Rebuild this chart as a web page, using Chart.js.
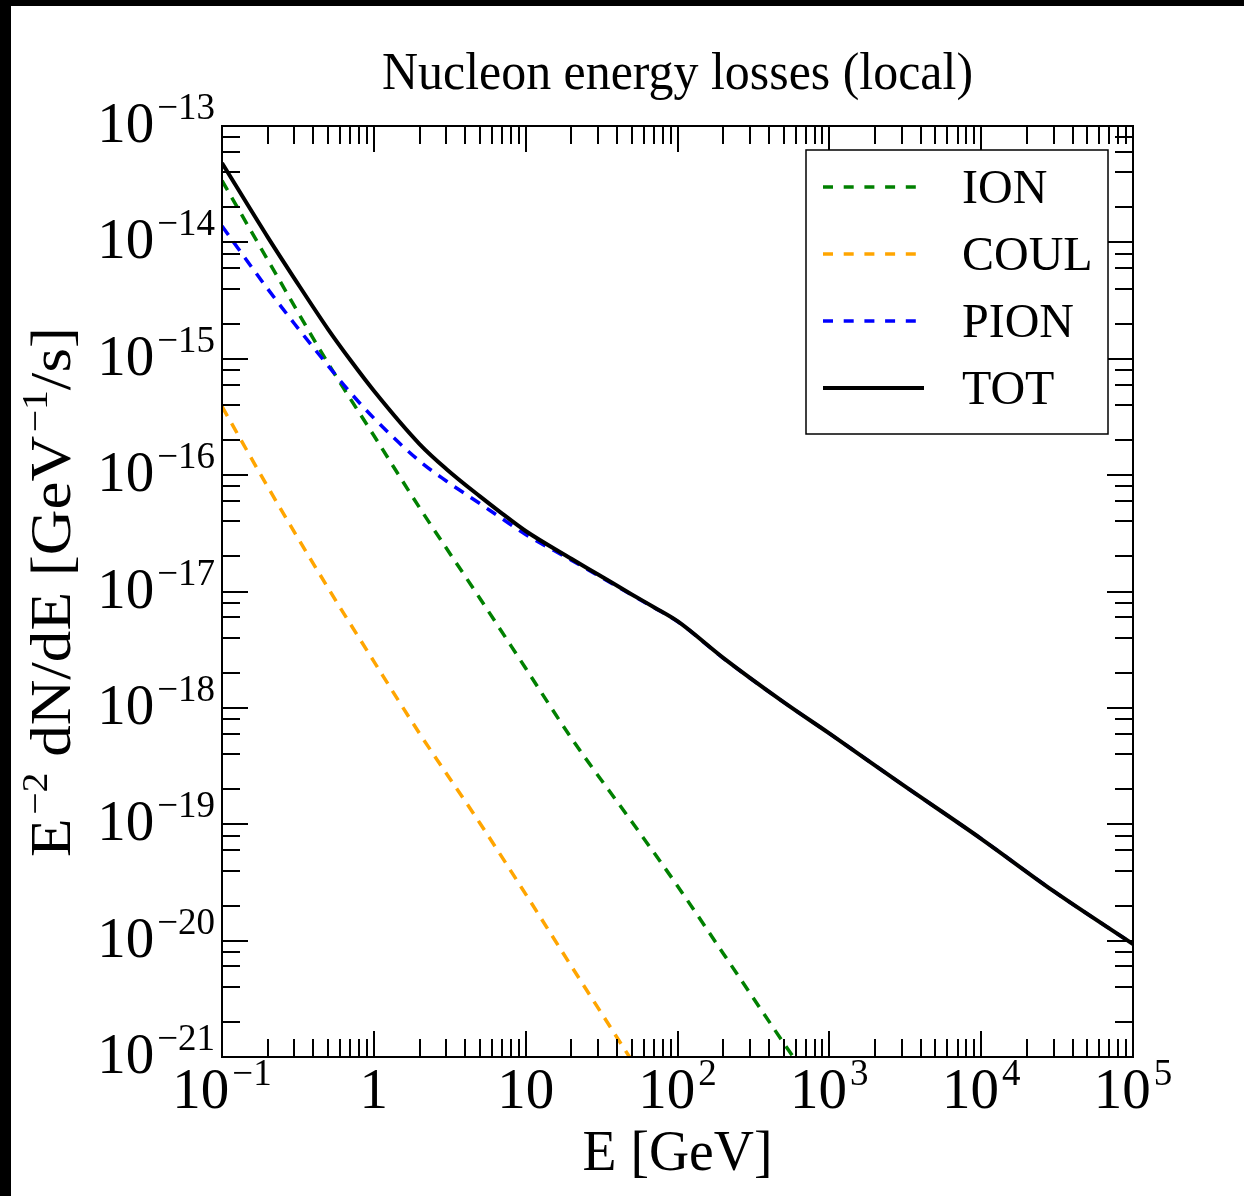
<!DOCTYPE html>
<html lang="en">
<head>
<meta charset="UTF-8">
<title>Nucleon energy losses (local)</title>
<script src="https://cdn.jsdelivr.net/npm/chart.js@4.4.0/dist/chart.umd.min.js"></script>
<style>
  html, body { margin: 0; padding: 0; background: #fff; }
  canvas { display: block; }
</style>
</head>
<body>
<canvas id="chart" width="1244" height="1196"></canvas>
<script>
// E [GeV] grids, one per curve
const energyTot = [0.1, 0.2, 0.3, 0.5, 0.7, 1, 2, 3, 5, 7, 10, 20, 30, 50, 70, 100, 200, 500, 1000, 3000, 10000, 30000, 100000];
const energyIon = [0.1, 0.2, 0.5, 1, 2, 5, 10, 20, 50, 100, 200, 500, 1000];
const energyCoul = [0.1, 0.2, 0.5, 1, 2, 5, 10, 20, 50, 100];

// E^-2 dN/dE [GeV^-1/s]
const ionLoss = [3.39e-14, 7.08e-15, 9.12e-16, 2.19e-16, 5.25e-17, 8.71e-18, 2.19e-18, 5.50e-19, 1.05e-19, 2.95e-20, 7.76e-21, 1.32e-21, 3.55e-22];
const coulLoss = [3.89e-16, 7.94e-17, 1.07e-17, 2.51e-18, 6.03e-19, 1.02e-19, 2.51e-20, 6.03e-21, 9.33e-22, 2.29e-22];
const pionLoss = [1.38e-14, 3.98e-15, 2.00e-15, 8.71e-16, 5.13e-16, 3.09e-16, 1.32e-16, 8.91e-17, 5.69e-17, 4.22e-17, 3.09e-17, 1.86e-17, 1.37e-17, 9.33e-18, 7.27e-18, 5.53e-18, 2.68e-18, 1.12e-18, 6.03e-19, 2.21e-19, 7.50e-20, 2.66e-20, 9.33e-21];
const totLoss = [4.81e-14, 1.11e-14, 4.89e-15, 1.79e-15, 9.75e-16, 5.31e-16, 1.85e-16, 1.13e-16, 6.56e-17, 4.67e-17, 3.31e-17, 1.91e-17, 1.40e-17, 9.44e-18, 7.33e-18, 5.56e-18, 2.69e-18, 1.12e-18, 6.03e-19, 2.21e-19, 7.50e-20, 2.66e-20, 9.33e-21];

const seriesNames = ['ION', 'COUL', 'PION', 'TOT'];

// tick labels
const xTickVals = [0.1, 1, 10, 100, 1000, 10000, 100000];
const xTickBase = ['10', '1', '10', '10', '10', '10', '10'];
const xTickExp = ['\u22121', '', '', '2', '3', '4', '5'];
const yTickVals = [1e-13, 1e-14, 1e-15, 1e-16, 1e-17, 1e-18, 1e-19, 1e-20, 1e-21];
const yTickExp = ['\u221213', '\u221214', '\u221215', '\u221216', '\u221217', '\u221218', '\u221219', '\u221220', '\u221221'];

const titleText = 'Nucleon energy losses (local)';
const xTitle = [{ t: 'E [GeV]' }];
const yTitle = [{ t: 'E' }, { t: '\u22122', sup: true }, { t: ' dN/dE [GeV' }, { t: '\u22121', sup: true }, { t: '/s]' }];

const SERIF = "'Liberation Serif', 'DejaVu Serif', serif";

function pts(xs, ys) {
  return xs.map((e, i) => ({ x: e, y: ys[i] }));
}

function mathWidth(c, parts, big, small) {
  let w = 0;
  parts.forEach(p => {
    c.font = (p.sup ? small : big) + 'px ' + SERIF;
    w += c.measureText(p.t).width + (p.sup ? 3 : 0);
  });
  return w;
}

// draws text parts left aligned at x, baseline y
function drawMath(c, parts, x, y, big, small, rise) {
  let cx = x;
  parts.forEach(p => {
    c.font = (p.sup ? small : big) + 'px ' + SERIF;
    if (p.sup) cx += 3;
    c.fillText(p.t, cx, p.sup ? y - rise : y);
    cx += c.measureText(p.t).width;
  });
}

// centred text, squeezed/stretched to a given width
function drawFit(c, parts, cx, y, big, small, rise, width) {
  const w = mathWidth(c, parts, big, small);
  const s = width ? width / w : 1;
  c.save();
  c.translate(cx, y);
  c.scale(s, 1);
  drawMath(c, parts, -w / 2, 0, big, small, rise);
  c.restore();
}

const framePlugin = {
  id: 'frame',
  beforeDraw(chart) {
    const c = chart.ctx;
    c.save();
    c.fillStyle = '#fff';
    c.fillRect(0, 0, chart.width, chart.height);
    c.fillStyle = '#000';
    c.fillRect(0, 0, chart.width, 6);
    c.fillRect(0, 0, 11, chart.height);
    c.restore();
  },
  afterDraw(chart) {
    const c = chart.ctx;
    const a = chart.chartArea;
    const xs = chart.scales.x, ys = chart.scales.y;
    c.save();
    c.strokeStyle = '#000';
    c.fillStyle = '#000';
    c.lineWidth = 2;

    // inward ticks on all four sides
    c.beginPath();
    for (let d = -1; d <= 5; d++) {
      for (let k = 1; k <= 9; k++) {
        if (d === 5 && k > 1) break;
        const px = Math.round(xs.getPixelForValue(k * Math.pow(10, d)));
        const len = k === 1 ? 26 : 18;
        c.moveTo(px, a.bottom); c.lineTo(px, a.bottom - len);
        c.moveTo(px, a.top); c.lineTo(px, a.top + len);
      }
    }
    for (let d = -21; d <= -13; d++) {
      for (const k of [1, 2, 4, 6, 8]) {
        if (d === -13 && k > 1) break;
        const py = Math.round(ys.getPixelForValue(k * Math.pow(10, d)));
        const len = k === 1 ? 26 : 18;
        c.moveTo(a.left, py); c.lineTo(a.left + len, py);
        c.moveTo(a.right, py); c.lineTo(a.right - len, py);
      }
    }
    c.stroke();
    c.strokeRect(a.left, a.top, a.right - a.left, a.bottom - a.top);

    // tick labels
    c.textBaseline = 'alphabetic';
    c.textAlign = 'left';
    xTickVals.forEach((v, i) => {
      const parts = [{ t: xTickBase[i] }];
      if (xTickExp[i]) parts.push({ t: xTickExp[i], sup: true });
      const w = mathWidth(c, parts, 57, 37);
      drawMath(c, parts, xs.getPixelForValue(v) - w / 2, a.bottom + 51, 57, 37, 23);
    });
    yTickVals.forEach((v, i) => {
      const parts = [{ t: '10' }, { t: yTickExp[i], sup: true }];
      const w = mathWidth(c, parts, 57, 37);
      drawMath(c, parts, a.left - 7 - w, ys.getPixelForValue(v) + 16, 57, 37, 23);
    });

    // titles
    drawFit(c, [{ t: titleText }], (a.left + a.right) / 2, 89, 52, 36, 0, 591);
    drawFit(c, xTitle, (a.left + a.right) / 2, 1170, 56, 36, 0, 190);
    c.save();
    c.translate(70, 592);
    c.rotate(-Math.PI / 2);
    drawFit(c, yTitle, 0, 0, 57, 36, 23, 530);
    c.restore();

    // legend
    const lx = 806, ly = 150, lw = 302, lh = 284;
    c.fillStyle = '#fff';
    c.fillRect(lx, ly, lw, lh);
    c.lineWidth = 1.5;
    c.strokeRect(lx, ly, lw, lh);
    chart.data.datasets.forEach((ds, r) => {
      const ry = 187 + r * 67;
      c.save();
      c.strokeStyle = ds.borderColor;
      c.lineWidth = ds.borderWidth;
      c.setLineDash(ds.borderDash ? [10, 10.7] : []);
      c.beginPath();
      c.moveTo(823, ry);
      c.lineTo(924, ry);
      c.stroke();
      c.restore();
      c.fillStyle = '#000';
      c.font = '48px ' + SERIF;
      c.fillText(ds.label, 962, ry + 16);
    });
    c.restore();
  }
};

const dash = [11, 8.5];

new Chart(document.getElementById('chart'), {
  type: 'line',
  data: {
    datasets: [
      { label: seriesNames[0], data: pts(energyIon, ionLoss), borderColor: '#008000', borderWidth: 3.5, borderDash: dash, order: 3 },
      { label: seriesNames[1], data: pts(energyCoul, coulLoss), borderColor: '#ffa500', borderWidth: 3.5, borderDash: dash, order: 2 },
      { label: seriesNames[2], data: pts(energyTot, pionLoss), borderColor: '#0000ff', borderWidth: 3.5, borderDash: dash, order: 1 },
      { label: seriesNames[3], data: pts(energyTot, totLoss), borderColor: '#000000', borderWidth: 4, order: 0 }
    ]
  },
  options: {
    responsive: false,
    animation: false,
    devicePixelRatio: 1,
    layout: { padding: { left: 222, right: 111, top: 126, bottom: 139 } },
    datasets: { line: { pointRadius: 0, fill: false, cubicInterpolationMode: 'monotone', clip: 0, borderJoinStyle: 'round' } },
    scales: {
      x: { type: 'logarithmic', min: 0.1, max: 100000, display: false },
      y: { type: 'logarithmic', min: 1e-21, max: 1e-13, display: false }
    },
    plugins: { legend: { display: false }, tooltip: { enabled: false }, title: { display: false } }
  },
  plugins: [framePlugin]
});
</script>
</body>
</html>
